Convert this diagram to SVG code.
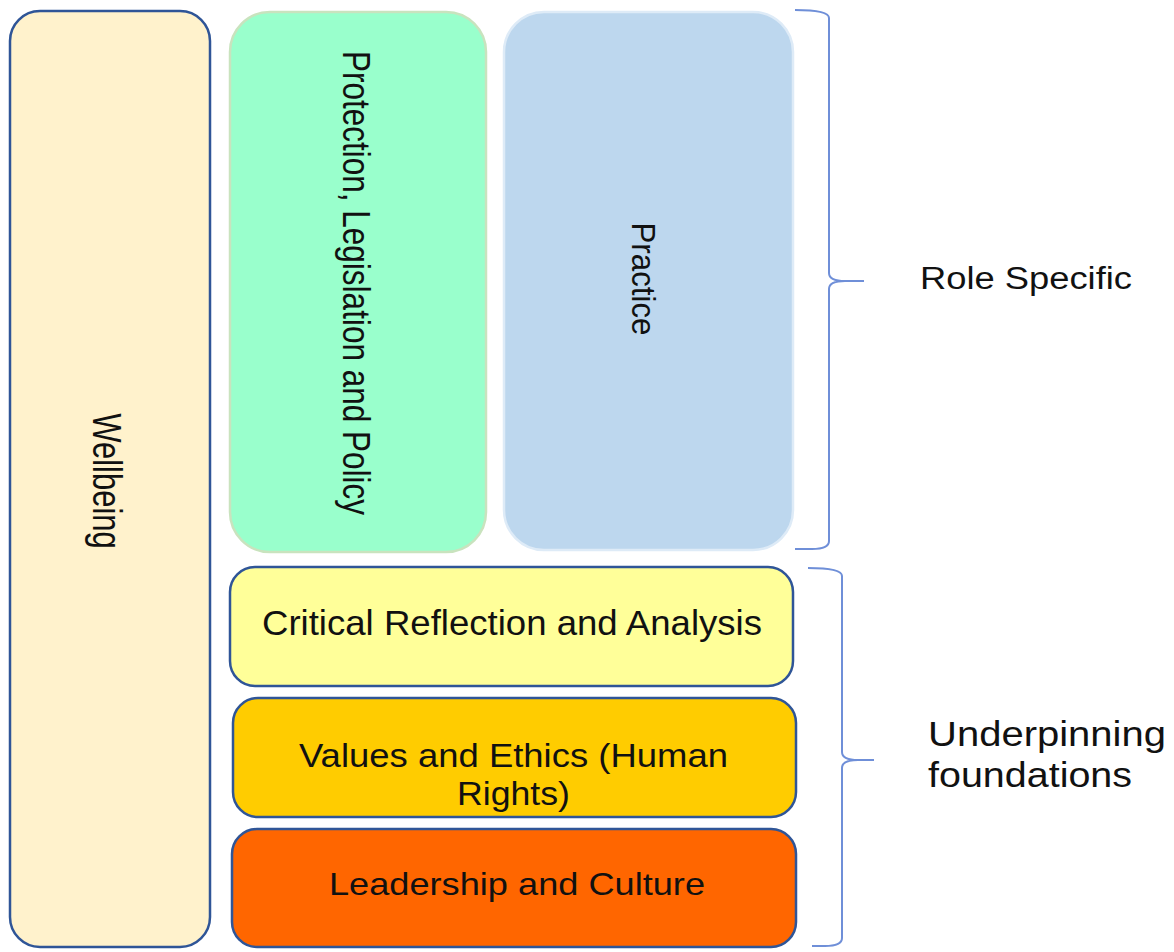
<svg xmlns="http://www.w3.org/2000/svg" width="1174" height="952" viewBox="0 0 1174 952">
<style>
text{font-family:"Liberation Sans",Arial,sans-serif;fill:#111;}
.dark{stroke:#2F5597;stroke-width:2.5;}
.br{fill:none;stroke:#6F8FD8;stroke-width:2;}
</style>
<rect width="1174" height="952" fill="#fff"/>
<g id="wellbeing">
<rect class="dark" x="10" y="11" width="200" height="936" rx="30" fill="#FFF2CC"/>
<text transform="translate(107,481) rotate(90) scale(1,1.3)" x="0" y="11" font-size="31" text-anchor="middle">Wellbeing</text>
</g>
<g id="protection">
<rect x="230" y="12" width="256" height="540" rx="40" fill="#99FFCC" stroke="#C9E3BE" stroke-width="2.5"/>
<text transform="translate(357,283) rotate(90) scale(1,1.2)" x="0" y="11.4" font-size="32" text-anchor="middle" textLength="464" lengthAdjust="spacingAndGlyphs">Protection, Legislation and Policy</text>
</g>
<g id="practice">
<rect x="504" y="12" width="289" height="538" rx="40" fill="#BDD7EE" stroke="#DEEBF7" stroke-width="2.5"/>
<text transform="translate(644,279) rotate(90) scale(1,1.1)" x="0" y="11" font-size="31" text-anchor="middle" textLength="113" lengthAdjust="spacingAndGlyphs">Practice</text>
</g>
<g id="critical">
<rect class="dark" x="230" y="567" width="563" height="119" rx="25" fill="#FFFF99"/>
<text x="262" y="635" font-size="35" textLength="500" lengthAdjust="spacingAndGlyphs">Critical Reflection and Analysis</text>
</g>
<g id="values">
<rect class="dark" x="233" y="698" width="563" height="119" rx="25" fill="#FFCC00"/>
<text x="299" y="767" font-size="33" textLength="429" lengthAdjust="spacingAndGlyphs">Values and Ethics (Human</text>
<text x="457" y="805" font-size="33" textLength="113" lengthAdjust="spacingAndGlyphs">Rights)</text>
</g>
<g id="leadership">
<rect class="dark" x="232" y="829" width="564" height="118" rx="25" fill="#FF6600"/>
<text x="329" y="895" font-size="32" textLength="376" lengthAdjust="spacingAndGlyphs">Leadership and Culture</text>
</g>
<g id="connectors">
<path class="br" d="M795,10 Q829,10 829,18 L829,273 Q829,281 845,281 L864,281 M845,281 Q829,281 829,289 L829,541 Q829,549 812,549 L795,549"/>
<path class="br" d="M808,568 Q842,568 842,576 L842,752 Q842,760 858,760 L874,760 M858,760 Q842,760 842,768 L842,938 Q842,946 825,946 L812,946"/>
</g>
<g id="labels">
<text x="920" y="289" font-size="31" textLength="212" lengthAdjust="spacingAndGlyphs">Role Specific</text>
<text x="928" y="746" font-size="35" textLength="238" lengthAdjust="spacingAndGlyphs">Underpinning</text>
<text x="928" y="787" font-size="35" textLength="204" lengthAdjust="spacingAndGlyphs">foundations</text>
</g>
</svg>
